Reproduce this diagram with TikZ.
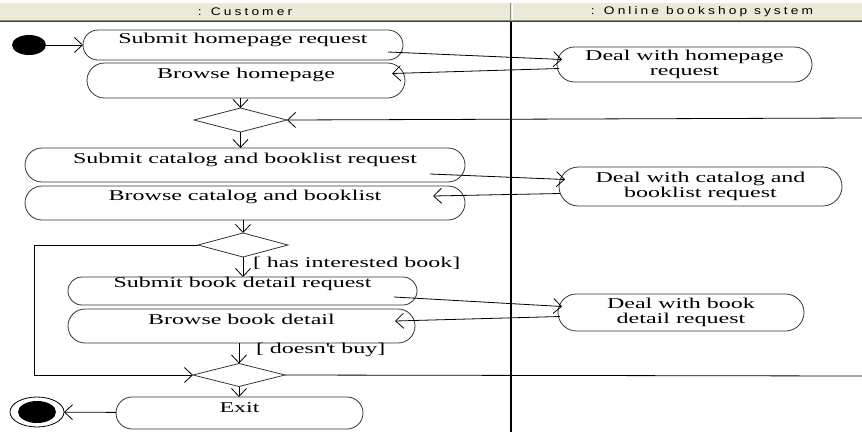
\documentclass[tikz,border=0pt]{standalone}
\usepackage{fontspec}
\setmainfont{Liberation Serif}[FakeStretch=1.6]
\newfontfamily\hdrfont{Liberation Sans}[FakeStretch=1.25,LetterSpace=28]
\usetikzlibrary{shapes.misc,shapes.geometric,arrows.meta,calc}
\definecolor{hdrbg}{HTML}{ECE9D8}
\definecolor{hdrline}{HTML}{8A8A80}
\begin{document}
\begin{tikzpicture}[x=1pt,y=-1pt,
  every node/.style={font=\fontsize{15}{15}\selectfont, inner sep=0pt, outer sep=0pt},
  act/.style={rounded rectangle, draw=black!80, fill=white, line width=0.8pt, text height=10pt},
  deal/.style={rounded rectangle, draw=black!80, fill=white, line width=0.8pt, align=center},
  dec/.style={diamond, draw=black!80, fill=white, line width=0.8pt},
  flow/.style={draw=black, line width=0.8pt, -{Straight Barb[length=8pt,width=15pt]}},
  link/.style={draw=black, line width=0.8pt},
  hdr/.style={font=\hdrfont\fontsize{11}{11}\selectfont}
]
\useasboundingbox (0,0) rectangle (862,432);
% header
\fill[hdrbg] (0,3) rectangle (862,20);
\draw[hdrline, line width=0.8pt] (0,20) -- (862,20);
\draw[black!75, line width=1.2pt] (0,21.8) -- (862,21.8);
\draw[hdrline, line width=0.8pt] (510,3) -- (510,20);
\draw[white, line width=0.8pt] (512,3) -- (512,20);
\node[hdr] (hc) at (245,11.5) {: Customer};
\node[hdr] (ho) at (702,11.5) {: Online bookshop system};
% lane divider
\draw[black, line width=1.3pt] (511,22) -- (511,432);

% nodes
\node[ellipse, fill=black, minimum width=34pt, minimum height=20pt] (start) at (29,45) {};
\node[act, minimum width=320pt, minimum height=30pt, text depth=14pt] (sub1) at (243,45) {Submit homepage request};
\node[act, minimum width=318pt, minimum height=35pt, text depth=15pt] (br1) at (246,80.5) {Browse homepage};
\node[deal, minimum width=255pt, minimum height=35pt] (deal1) at (684.5,64.5) {Deal with homepage\\request};
\node[dec, minimum width=93pt, minimum height=24pt] (d1) at (240.5,120) {};
\node[act, minimum width=440pt, minimum height=34pt, text depth=14pt] (subcat) at (245,165) {Submit catalog and booklist request};
\node[act, minimum width=440pt, minimum height=34pt, text depth=16pt] (brcat) at (245,203) {Browse catalog and booklist};
\node[deal, minimum width=283pt, minimum height=39pt] (dealcat) at (700.5,186.5) {Deal with catalog and\\booklist request};
\node[dec, minimum width=90pt, minimum height=24pt] (d2) at (243,245) {};
\node[act, minimum width=349pt, minimum height=28pt, text depth=18pt] (subbd) at (242.5,291) {Submit book detail request};
\node[act, minimum width=347pt, minimum height=34pt, text depth=14pt] (brbd) at (241.5,326) {Browse book detail};
\node[deal, minimum width=246pt, minimum height=37pt] (dealbd) at (681,312.5) {Deal with book\\detail request};
\node[dec, minimum width=92pt, minimum height=23pt] (d3) at (239,375) {};
\node[act, minimum width=247pt, minimum height=32pt, text depth=12pt] (exit) at (239.5,413) {Exit};
\node[ellipse, draw=black, line width=0.8pt, minimum width=54pt, minimum height=30pt] (end) at (37,412) {};
\fill[black] (end.center) ellipse [x radius=19pt, y radius=11pt];

% guard labels
\node[anchor=west] (lblhas) at (253,263) {[ has interested book]};
\node[anchor=west] (lbldb) at (256,350) {[ doesn\textquotesingle t buy]};

% free ends
\coordinate (edgeA) at (862,118);
\coordinate (edgeB) at (862,376);
\coordinate (loopA) at (34,300);

% connectors
\draw[flow] (start) -- (sub1);
\draw[flow] ($(sub1.east)+(-15,7)$) -- ($(deal1.west)+(5,-5)$);
\draw[flow] ($(deal1.west)+(2,4)$) -- ($(br1.east)+(-13,-7)$);
\draw[flow] (d1.north |- br1.south) -- (d1.north);
\draw[flow] (edgeA) -- (d1.east);
\draw[flow] (d1.south) -- (d1.south |- subcat.north);
\draw[flow] ($(subcat.east)+(-35,9)$) -- ($(dealcat.west)+(6,-7)$);
\draw[flow] ($(dealcat.west)+(1,7)$) -- ($(brcat.east)+(-32,-7)$);
\draw[flow] (d2.north |- brcat.south) -- (d2.north);
\draw[flow] (d2.south) -- (d2.south |- subbd.north);
\draw[flow] (d2.west) -- (d2.west -| loopA) -- (loopA |- d3.west) -- (d3.west);
\draw[flow] ($(subbd.east)+(-23,6)$) -- ($(dealbd.west)+(4,-6)$);
\draw[flow] ($(dealbd.west)+(2,4)$) -- ($(brbd.east)+(-20,-5)$);
\draw[flow] (d3.north |- brbd.south) -- (d3.north);
\draw[link] (d3.east) -- (edgeB);
\draw[flow] (d3.south) -- (d3.south |- exit.north);
\draw[flow] (exit) -- (end);
\end{tikzpicture}
\end{document}
